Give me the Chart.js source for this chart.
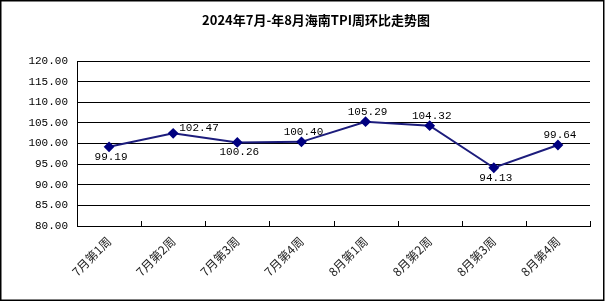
<!DOCTYPE html>
<html>
<head>
<meta charset="utf-8">
<script src="https://cdn.jsdelivr.net/npm/chart.js@4"></script>
<style>
  html, body { margin: 0; padding: 0; background: #fff; }
</style>
</head>
<body>
<canvas id="myChart" width="606" height="302"></canvas>
<script>
// data
const chartTitle = '2024年7月-年8月海南TPI周环比走势图';
const categories = ['7月第1周', '7月第2周', '7月第3周', '7月第4周', '8月第1周', '8月第2周', '8月第3周', '8月第4周'];
const tpiValues = [99.19, 102.47, 100.26, 100.40, 105.29, 104.32, 94.13, 99.64];
const yTicks = [80, 85, 90, 95, 100, 105, 110, 115, 120];
// where each value label sits relative to its point
const labelPos = ['below', 'right', 'below', 'above', 'above', 'above', 'below', 'above'];

const valueLabels = {
    id: 'valueLabels',
    afterDatasetsDraw(chart) {
        const ctx = chart.ctx;
        const pts = chart.getDatasetMeta(0).data;
        ctx.save();
        ctx.font = '11px "Liberation Mono", monospace';
        ctx.fillStyle = '#000';
        ctx.textBaseline = 'middle';
        pts.forEach((p, i) => {
            const txt = tpiValues[i].toFixed(2);
            if (labelPos[i] === 'right') {
                ctx.textAlign = 'left';
                ctx.fillText(txt, p.x + 6, p.y - 5);
            } else {
                ctx.textAlign = 'center';
                ctx.fillText(txt, p.x + 2, labelPos[i] === 'above' ? p.y - 10 : p.y + 10);
            }
        });
        ctx.restore();
    }
};

// title (sits a bit left of the plot centre, like the original), inside x ticks, outer frame
const frame = {
    id: 'frame',
    afterDraw(chart) {
        const ctx = chart.ctx;
        const a = chart.chartArea;
        const n = categories.length;
        ctx.save();
        ctx.fillStyle = '#000';
        ctx.font = 'bold 13px "Noto Sans CJK SC"';
        ctx.textAlign = 'center';
        ctx.textBaseline = 'middle';
        ctx.fillText(chartTitle, 316, 20);

        ctx.strokeStyle = '#000';
        ctx.lineWidth = 1;
        ctx.beginPath();
        for (let i = 0; i <= n; i++) {
            const x = Math.round(a.left + i * (a.right - a.left) / n) + 0.5;
            ctx.moveTo(x, a.bottom);
            ctx.lineTo(x, a.bottom - 5);
        }
        ctx.stroke();
        ctx.lineWidth = 1.5;
        ctx.strokeRect(0.75, 0.75, 603, 299.5);
        ctx.restore();
    }
};

const data = {
    labels: categories,
    datasets: [{
        data: tpiValues,
        borderColor: '#1c1c7c',
        borderWidth: 2,
        tension: 0,
        pointStyle: 'rectRot',
        pointRadius: 4,
        pointBackgroundColor: '#000080',
        pointBorderColor: '#000080'
    }]
};

const config = {
    type: 'line',
    data,
    options: {
        responsive: false,
        animation: false,
        layout: { padding: { left: 12, right: 16, top: 61, bottom: 0 } },
        plugins: {
            legend: { display: false },
            tooltip: { enabled: false },
            title: { display: false }
        },
        scales: {
            x: {
                offset: true,
                grid: { display: true, drawOnChartArea: false, drawTicks: false },
                border: { display: true, color: '#000', width: 1 },
                ticks: {
                    autoSkip: false,
                    maxRotation: 45,
                    minRotation: 45,
                    padding: 8,
                    color: '#222',
                    font: { family: '"Noto Sans CJK SC"', size: 12 }
                },
                afterFit(scale) { scale.height = 76; }
            },
            y: {
                min: yTicks[0],
                max: yTicks[yTicks.length - 1],
                grid: { color: '#000', lineWidth: 1, drawTicks: false },
                border: { display: true, color: '#000', width: 1 },
                ticks: {
                    stepSize: yTicks[1] - yTicks[0],
                    padding: 9,
                    color: '#000',
                    font: { family: '"Liberation Mono", monospace', size: 11 },
                    callback: v => v.toFixed(2)
                },
                afterFit(scale) { scale.width = 65; }
            }
        }
    },
    plugins: [valueLabels, frame]
};

const myChart = new Chart(document.getElementById('myChart'), config);
</script>
</body>
</html>
